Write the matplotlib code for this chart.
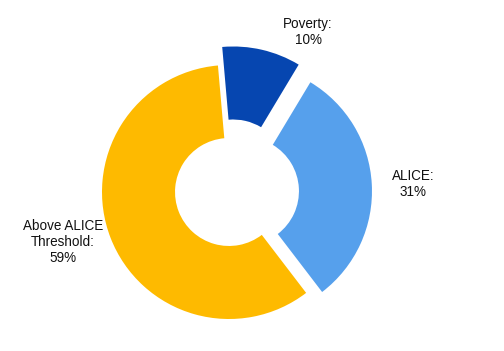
import matplotlib
matplotlib.use("Agg")
import matplotlib.pyplot as plt

# slice data, in drawing order (clockwise from just left of 12 o'clock)
categories = ["Poverty", "ALICE", "Above ALICE\nThreshold"]
shares = [10, 31, 59]
explode_px = [19, 16, 0]  # how far each slice is pulled out, in pixels
colors = ["#0646B0", "#56A0EC", "#FEBA00"]

plt.rcParams["font.family"] = ["Liberation Sans", "DejaVu Sans"]

fig = plt.figure(figsize=(5.04, 3.51), dpi=100, facecolor="white")
ax = fig.add_axes([0, 0, 1, 1])

radius = 127
center = (229, 159)
# pie offsets wedges by explode in data units (1 unit = 1 px here)
ax.pie(shares, colors=colors, startangle=95, counterclock=False,
       radius=radius, center=center, explode=explode_px,
       wedgeprops=dict(width=radius * 0.575, edgecolor="none"))

ax.set_xlim(0, 504)
ax.set_ylim(0, 351)
ax.set_aspect("equal")
ax.axis("off")

# labels outside the ring
label_pos = [(308, 319), (413, 167), (63, 109)]
for name, val, (x, y) in zip(categories, shares, label_pos):
    ax.text(x, y, f"{name}:\n{val}%", ha="center", va="center",
            fontsize=9.75, color="#111111", linespacing=1.2)

fig.savefig("out.png", dpi=100, facecolor="white")
